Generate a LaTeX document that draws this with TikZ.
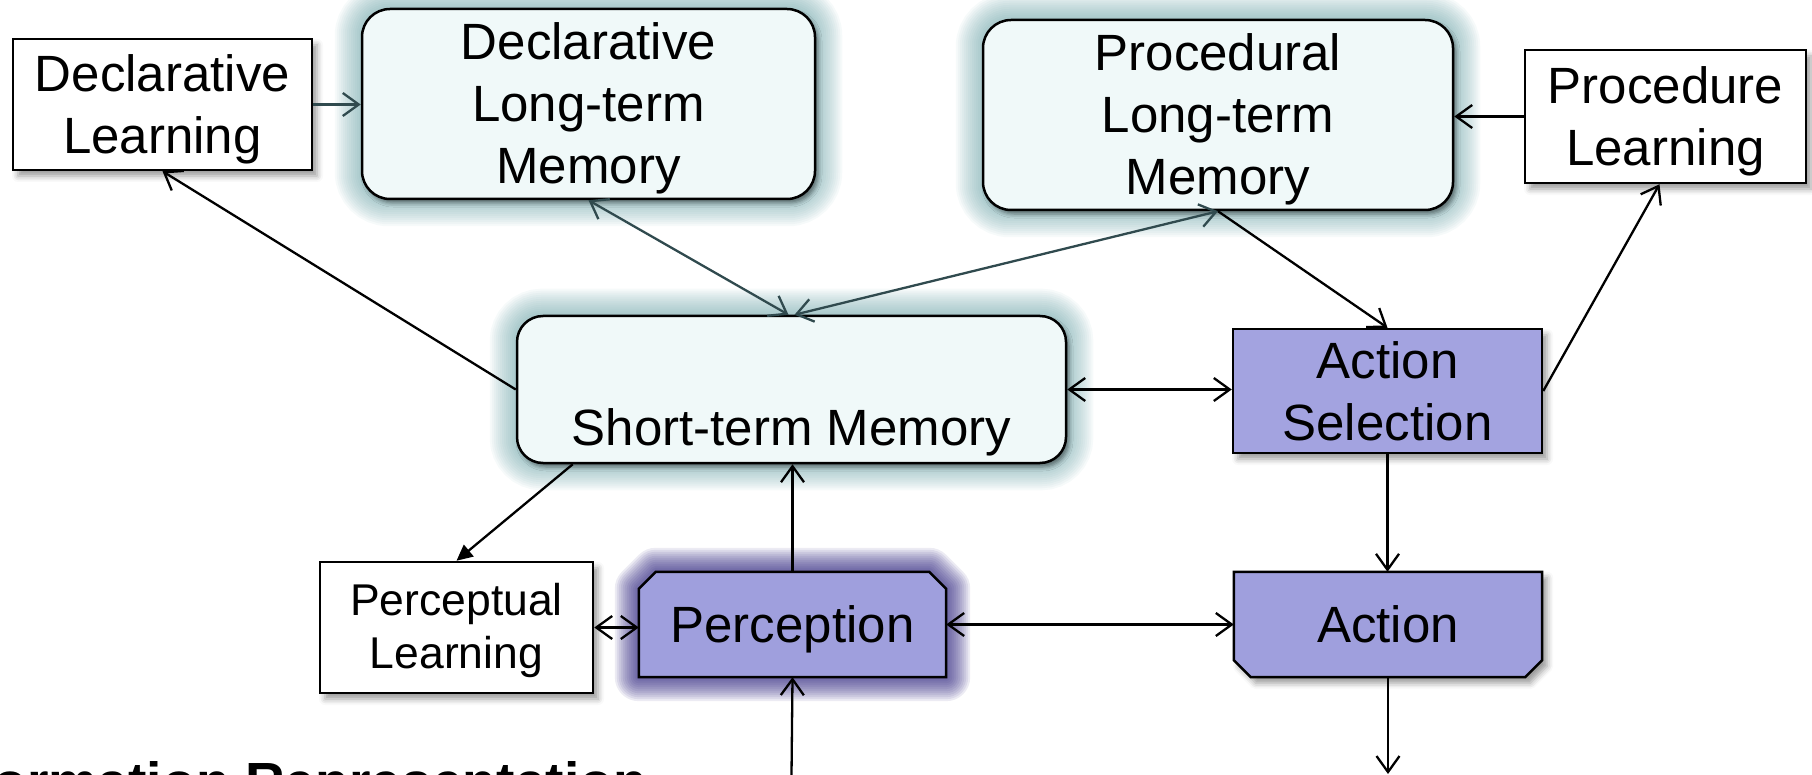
\documentclass[tikz,border=0pt]{standalone}
\usepackage{fontspec}
\setmainfont{Liberation Sans}
\usetikzlibrary{arrows.meta,shadows.blur,backgrounds,calc}

\definecolor{memfill}{RGB}{240,249,249}
\definecolor{memglow}{RGB}{95,155,160}
\definecolor{actfill}{RGB}{163,163,224}
\definecolor{percfill}{RGB}{159,159,221}
\definecolor{percglow}{RGB}{44,34,125}
\definecolor{linkdark}{RGB}{48,74,78}

% struts that fix the height of the first line and the depth of the last one
\def\boxup{\rule{0pt}{48pt}}
\def\boxdn{\rule[-12pt]{0pt}{12pt}}
\def\smallup{\rule{0pt}{38pt}}
\def\smalldn{\rule[-10pt]{0pt}{10pt}}

\tikzset{
  every node/.style={inner sep=0pt, align=center,
    font=\fontsize{51pt}{62pt}\selectfont},
  dropshade/.style={blur shadow={shadow xshift=5pt, shadow yshift=-6pt,
    shadow blur radius=6pt, shadow opacity=40}},
  learnbox/.style={draw, line width=2.5pt, fill=white, dropshade},
  membox/.style={draw, line width=2.5pt, fill=memfill, rounded corners=28pt,
    blur shadow={shadow xshift=3pt, shadow yshift=-4pt,
      shadow blur radius=4pt, shadow opacity=45}},
  actbox/.style={draw, line width=2.5pt, fill=actfill, dropshade},
  barb/.tip={Straight Barb[length=16pt,width=23pt]},
  link/.style={line width=2.3pt, -barb},
  dlink/.style={line width=2.3pt, barb-barb},
  % outlines of the two chamfered boxes
  percshape/.style={insert path={(Perc.south west) -- ($(Perc.north west)+(0,17)$)
    -- ($(Perc.north west)+(17,0)$) -- ($(Perc.north east)+(-17,0)$)
    -- ($(Perc.north east)+(0,17)$) -- (Perc.south east) -- cycle}},
  actshape/.style={insert path={(Act.north west) -- (Act.north east)
    -- ($(Act.south east)+(0,-17)$) -- ($(Act.south east)+(-17,0)$)
    -- ($(Act.south west)+(17,0)$) -- ($(Act.south west)+(0,-17)$) -- cycle}},
}

\begin{document}
\begin{tikzpicture}[x=1pt, y=-1pt]
  \useasboundingbox (0,0) rectangle (1812,775);
  \clip (0,0) rectangle (1812,775);

  % boxes
  \node[learnbox, minimum width=299pt, minimum height=131pt] (DL) at (162.5,104.5)
    {\boxup Declarative\\Learning\boxdn};
  \node[membox, minimum width=453pt, minimum height=190pt] (DLTM) at (588.5,104)
    {\boxup Declarative\\Long-term\\Memory\boxdn};
  \node[membox, minimum width=470pt, minimum height=190pt] (PLTM) at (1218,115)
    {\boxup Procedural\\Long-term\\Memory\boxdn};
  \node[learnbox, minimum width=281pt, minimum height=133pt] (PL) at (1665.5,116.5)
    {\boxup Procedure\\Learning\boxdn};
  \node[membox, rounded corners=26pt, minimum width=549pt, minimum height=147pt]
    (STM) at (791.5,389.5) {\boxup\\[13pt]Short-term Memory\boxdn};
  \node[actbox, minimum width=309pt, minimum height=124pt] (AS) at (1387.5,391)
    {\boxup Action\\Selection\boxdn};
  \node[learnbox, minimum width=273pt, minimum height=131pt,
    font=\fontsize{44.5pt}{53pt}\selectfont] (PercL) at (456.5,627.5)
    {\smallup Perceptual\\Learning\smalldn};
  \node[minimum width=307pt, minimum height=105pt] (Perc) at (792.5,624.5)
    {\boxup Perception\boxdn};
  \node[minimum width=308pt, minimum height=105pt] (Act) at (1388,624.5)
    {\boxup Action\boxdn};

  \begin{scope}[on background layer]
    % soft halos round the memory boxes and the perception box
    \foreach \w in {4,8,...,52} {
      \draw[memglow, line width=\w pt, opacity=0.055, rounded corners=28pt]
        (DLTM.north west) rectangle (DLTM.south east);
      \draw[memglow, line width=\w pt, opacity=0.055, rounded corners=28pt]
        (PLTM.north west) rectangle (PLTM.south east);
      \draw[memglow, line width=\w pt, opacity=0.055, rounded corners=26pt]
        (STM.north west) rectangle (STM.south east);
    }
    \foreach \w in {4,8,...,48} {
      \draw[percglow, line width=\w pt, opacity=0.09, line join=round, percshape];
    }
    % chamfered perception and action boxes
    \path[draw, line width=2.5pt, fill=percfill, percshape];
    \path[draw, line width=2.5pt, fill=percfill, dropshade, actshape];
  \end{scope}

  % free ends of the input and output arrows
  \coordinate (percin) at (791.5,775);
  \coordinate (actout) at (1388,774);

  % connectors
  \draw[link, draw=linkdark] (DL.east) -- (DL.east -| DLTM.west);
  \draw[link] (STM.west) -- (DL.south);
  \draw[dlink, draw=linkdark] (DLTM.south) -- ($(STM.north)+(-3,0)$);
  \draw[dlink, draw=linkdark] (PLTM.south) -- ($(STM.north)+(3,0)$);
  \draw[link] (PLTM.south) -- (AS.north);
  \draw[link] (PL.west) -- (PL.west -| PLTM.east);
  \draw[link] (AS.east) -- ($(PL.south)+(-6,0)$);
  \draw[dlink] (STM.east) -- (STM.east -| AS.west);
  \draw[line width=2.3pt, -{Triangle[length=16pt,width=15pt]}]
    ($(STM.south west)+(57,0)$) -- (PercL.north);
  \draw[link] (Perc.north) -- (Perc.north |- STM.south);
  \draw[dlink] (PercL.east) -- (PercL.east -| Perc.west);
  \draw[dlink] (Perc.east) -- (Perc.east -| Act.west);
  \draw[link] (AS.south) -- (AS.south |- Act.north);
  \draw[link] (Act.south) -- (actout);
  \draw[link] (percin) -- (Perc.south);

  % section heading running off the lower edge
  \node[font=\fontsize{55.2pt}{62pt}\selectfont\bfseries, anchor=base west]
    (info) at (-74,801) {Information Representation};
\end{tikzpicture}
\end{document}
